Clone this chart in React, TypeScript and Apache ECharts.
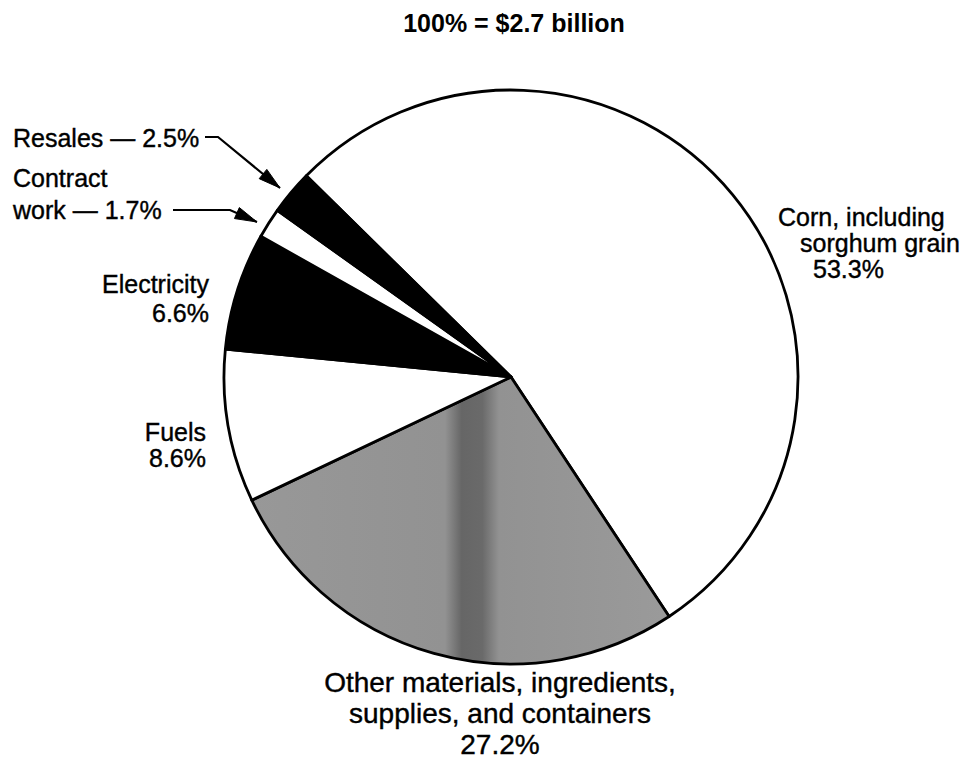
import React, { useEffect, useRef } from "react";
import * as echarts from "echarts";

// ---- data ----
const titleText = "100% = $2.7 billion";
const categories = [
  "Corn, including sorghum grain",
  "Other materials, ingredients, supplies, and containers",
  "Fuels",
  "Electricity",
  "Contract work",
  "Resales",
];
const shares = [53.3, 27.2, 8.6, 6.6, 1.7, 2.5];
// label text lines (before the percentage); joiner tells how the value is attached
const labelLines = [
  ["Corn, including", "sorghum grain"],
  ["Other materials, ingredients,", "supplies, and containers"],
  ["Fuels"],
  ["Electricity"],
  ["Contract", "work"],
  ["Resales"],
];
const valueJoin = ["newline", "newline", "newline", "newline", "dash", "dash"];

const FONT = "'Liberation Sans', Arial, Helvetica, sans-serif";

function buildLines(i: number): string[] {
  const lines = labelLines[i].slice();
  const v = `${shares[i]}%`;
  if (valueJoin[i] === "dash") {
    lines[lines.length - 1] = `${lines[lines.length - 1]} \u2014 ${v}`;
  } else {
    lines.push(v);
  }
  return lines;
}

// layout for each label (positions per line)
const labelLayout: { align: string; pts: [number, number][]; size: number }[] = [
  { align: "left", pts: [[778, 217], [800, 243], [813, 269]], size: 25 },
  { align: "center", pts: [[500, 682], [500, 713], [500, 744]], size: 28 },
  { align: "right", pts: [[206, 432], [206, 458]], size: 25 },
  { align: "right", pts: [[209, 284], [209, 313]], size: 25 },
  { align: "left", pts: [[13, 178], [13, 210]], size: 25 },
  { align: "left", pts: [[13, 138]], size: 25 },
];

function arrow(points: [number, number][]) {
  const n = points.length;
  const [tx, ty] = points[n - 1];
  const [fx, fy] = points[n - 2];
  const dx = tx - fx;
  const dy = ty - fy;
  const len = Math.hypot(dx, dy);
  const ux = dx / len;
  const uy = dy / len;
  const L = 22;
  const W = 6;
  const bx = tx - ux * L;
  const by = ty - uy * L;
  const head = [
    [tx, ty],
    [bx - uy * W, by + ux * W],
    [bx + uy * W, by - ux * W],
  ];
  return [
    {
      type: "polyline",
      shape: { points },
      style: { stroke: "#000", lineWidth: 2.2, fill: null },
      silent: true,
    },
    {
      type: "polygon",
      shape: { points: head },
      style: { fill: "#000", stroke: "#000", lineWidth: 1 },
      silent: true,
    },
  ];
}

export default function App() {
  const ref = useRef<HTMLDivElement>(null);
  useEffect(() => {
    if (!ref.current) return;
    const chart = echarts.init(ref.current, undefined, { renderer: "svg" });

    const grayFill = new echarts.graphic.LinearGradient(
      250,
      0,
      665,
      0,
      [
        { offset: 0, color: "#989898" },
        { offset: 0.47, color: "#929292" },
        { offset: 0.51, color: "#666666" },
        { offset: 0.56, color: "#6a6a6a" },
        { offset: 0.6, color: "#929292" },
        { offset: 1, color: "#9a9a9a" },
      ],
      true
    );
    const fills = ["#ffffff", grayFill, "#ffffff", "#000000", "#ffffff", "#000000"];

    const texts: any[] = [];
    categories.forEach((_, i) => {
      const lines = buildLines(i);
      const lay = labelLayout[i];
      lines.forEach((t, j) => {
        texts.push({
          type: "text",
          x: lay.pts[j][0],
          y: lay.pts[j][1],
          style: {
            text: t,
            fill: "#000",
            font: `${lay.size}px ${FONT}`,
            align: lay.align,
            verticalAlign: "middle",
            stroke: "#000",
            lineWidth: 0.4,
          },
          silent: true,
        });
      });
    });

    const option: any = {
      animation: false,
      backgroundColor: "#ffffff",
      graphic: [
        {
          type: "text",
          x: 514,
          y: 23,
          style: {
            text: titleText,
            fill: "#000",
            font: `bold 25px ${FONT}`,
            align: "center",
            verticalAlign: "middle",
          },
        },
        ...texts,
        ...arrow([
          [205, 137],
          [218, 137],
          [280, 188],
        ]),
        ...arrow([
          [173, 210],
          [230, 210],
          [257, 222],
        ]),
      ],
      series: [
        {
          type: "pie",
          center: [511, 377],
          radius: [0, 287],
          startAngle: 135.5,
          clockwise: true,
          avoidLabelOverlap: false,
          label: { show: false },
          labelLine: { show: false },
          emphasis: { disabled: true },
          itemStyle: { borderColor: "#000", borderWidth: 2.8 },
          data: categories.map((name, i) => ({
            name,
            value: shares[i],
            itemStyle: { color: fills[i] },
          })),
        },
      ],
    };
    chart.setOption(option);
    return () => chart.dispose();
  }, []);
  return (
    <div
      ref={ref}
      style={{ position: "fixed", left: 0, top: 0, width: 970, height: 769, background: "#fff" }}
    />
  );
}
